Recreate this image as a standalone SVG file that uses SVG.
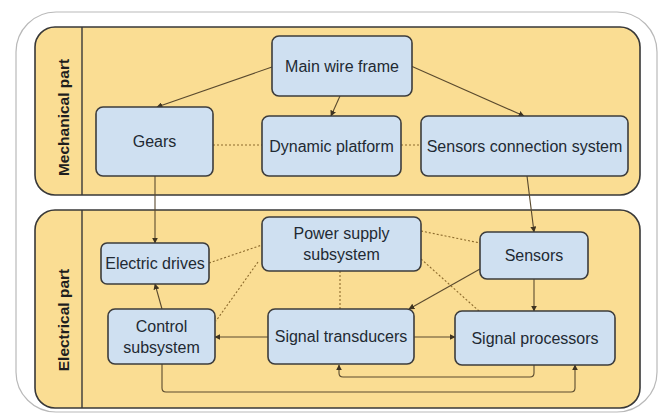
<svg xmlns="http://www.w3.org/2000/svg" width="664" height="416" viewBox="0 0 664 416">
  <defs>
    <marker id="arrow" viewBox="0 0 10 10" refX="9" refY="5" markerWidth="6" markerHeight="6" markerUnits="userSpaceOnUse" orient="auto">
      <path d="M0,0 L10,5 L0,10 z" fill="#3f3421"/>
    </marker>
    <style>
      .frame { fill: #ffffff; stroke: #b9b9b9; stroke-width: 1.2; }
      .panel { fill: #fadd93; stroke: #383838; stroke-width: 1.6; }
      .divider { stroke: #383838; stroke-width: 1.4; }
      .side { font-family: "Liberation Sans", Arial, sans-serif; font-size: 15.5px; font-weight: bold; fill: #1e1e1e; text-anchor: middle; }
      .node rect { fill: #cfe0f1; stroke: #3c3c3c; stroke-width: 1.6; }
      .node text { font-family: "Liberation Sans", Arial, sans-serif; font-size: 16px; fill: #222a33; text-anchor: middle; }
      .link { fill: none; stroke: #5a4a2e; stroke-width: 1.1; marker-end: url(#arrow); }
      .dots { fill: none; stroke: #8c6a2c; stroke-width: 1.1; stroke-dasharray: 2 2; }
    </style>
  </defs>

  <!-- outer frame -->
  <rect class="frame" x="16" y="12" width="641" height="400" rx="40"/>

  <!-- mechanical part panel -->
  <g id="mechanical-panel">
    <rect class="panel" x="35" y="27" width="605" height="168" rx="20"/>
    <line class="divider" x1="82" y1="27" x2="82" y2="195"/>
    <text class="side" transform="translate(68.5,117.5) rotate(-90)">Mechanical part</text>
  </g>

  <!-- electrical part panel -->
  <g id="electrical-panel">
    <rect class="panel" x="35" y="210" width="605" height="198" rx="20"/>
    <line class="divider" x1="82" y1="210" x2="82" y2="408"/>
    <text class="side" transform="translate(68.5,320) rotate(-90)">Electrical part</text>
  </g>

  <!-- connectors -->
  <g id="connectors">
    <path class="link" d="M272,67 L157,107"/>
    <path class="link" d="M340,96 L331,116"/>
    <path class="link" d="M411,66 L524,116"/>
    <path class="dots" d="M213,145 L262,145"/>
    <path class="dots" d="M401,145 L421,145"/>
    <path class="link" d="M155,176 L155,243"/>
    <path class="link" d="M527,176 L534,232"/>
    <path class="dots" d="M209,263 L262,245"/>
    <path class="dots" d="M258,262 L216,321"/>
    <path class="dots" d="M421,231 L480,243"/>
    <path class="dots" d="M421,259 L479,311"/>
    <path class="dots" d="M340,271 L340,309"/>
    <path class="link" d="M480,269 L409,309"/>
    <path class="link" d="M534,279 L534,311"/>
    <path class="link" d="M414,337 L455,337"/>
    <path class="link" d="M268,337 L215,337"/>
    <path class="link" d="M162,309 L155,284"/>
    <path class="link" d="M534,365 L534,373 Q534,377 530,377 L343,377 Q339,377 339,373 L339,365"/>
    <path class="link" d="M162,364 L162,388 Q162,392 166,392 L571,392 Q575,392 575,388 L575,365"/>
  </g>

  <!-- nodes -->
  <g id="main-wire-frame" class="node">
    <rect x="272" y="36" width="140" height="60" rx="7"/>
    <text x="342" y="71.5">Main wire frame</text>
  </g>
  <g id="gears" class="node">
    <rect x="96" y="107" width="117" height="69" rx="7"/>
    <text x="154.5" y="147">Gears</text>
  </g>
  <g id="dynamic-platform" class="node">
    <rect x="262" y="116" width="139" height="60" rx="7"/>
    <text x="331.5" y="151.5">Dynamic platform</text>
  </g>
  <g id="sensors-connection-system" class="node">
    <rect x="421" y="116" width="207" height="60" rx="7"/>
    <text x="524.5" y="151.5">Sensors connection system</text>
  </g>
  <g id="electric-drives" class="node">
    <rect x="101" y="243" width="108" height="41" rx="6"/>
    <text x="155" y="269">Electric drives</text>
  </g>
  <g id="power-supply-subsystem" class="node">
    <rect x="262" y="217" width="159" height="54" rx="7"/>
    <text x="341.5" y="239">Power supply</text>
    <text x="341.5" y="260">subsystem</text>
  </g>
  <g id="sensors" class="node">
    <rect x="480" y="232" width="108" height="47" rx="7"/>
    <text x="534" y="261">Sensors</text>
  </g>
  <g id="control-subsystem" class="node">
    <rect x="108" y="309" width="107" height="55" rx="7"/>
    <text x="161.5" y="331.5">Control</text>
    <text x="161.5" y="352.5">subsystem</text>
  </g>
  <g id="signal-transducers" class="node">
    <rect x="268" y="309" width="146" height="55" rx="7"/>
    <text x="341" y="342">Signal transducers</text>
  </g>
  <g id="signal-processors" class="node">
    <rect x="455" y="311" width="160" height="54" rx="7"/>
    <text x="535" y="343.5">Signal processors</text>
  </g>
</svg>
